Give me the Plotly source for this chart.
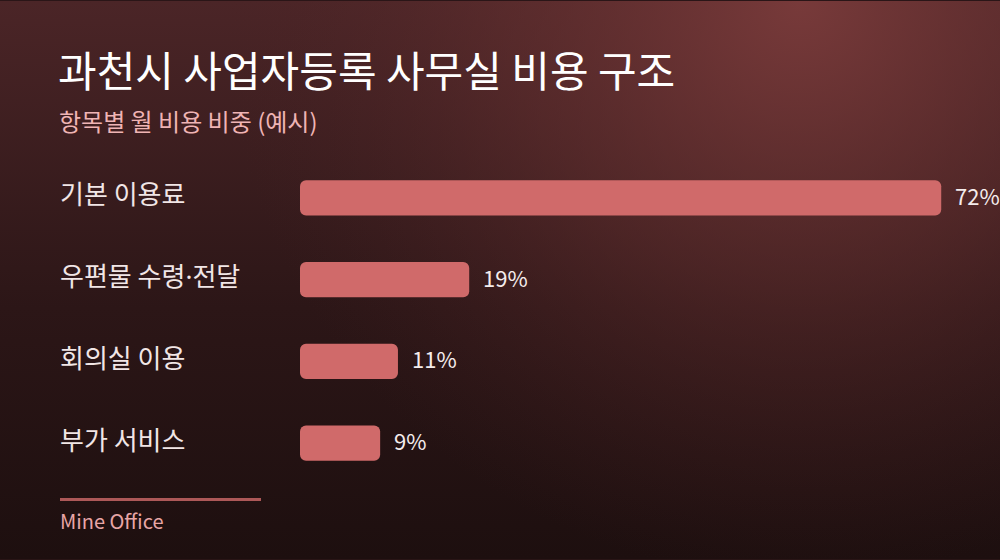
import base64
import plotly.graph_objects as go

categories = ["기본 이용료", "우편물 수령·전달", "회의실 이용", "부가 서비스"]
shares = [72, 19, 11, 9]
value_labels = ["72%", "19%", "11%", "9%"]

title = "과천시 사업자등록 사무실 비용 구조"
subtitle = "항목별 월 비용 비중 (예시)"
source = "Mine Office"

W, H = 1000, 560
ML, MR, MT, MB = 300, 0, 156.5, 75.5
FONT = "Noto Sans CJK KR, Noto Sans, sans-serif"
BAR = "#d06a6a"


def px_x(p):
    return (p - ML) / (W - ML - MR)


def px_y(p):
    return (H - MB - p) / (H - MT - MB)


# background: dark vertical gradient with a warm glow top right
svg = f"""<svg xmlns='http://www.w3.org/2000/svg' width='{W}' height='{H}'>
<defs>
<linearGradient id='g' x1='0' y1='0' x2='0' y2='1'>
<stop offset='0' stop-color='#4b2527'/>
<stop offset='0.55' stop-color='#2c1617'/>
<stop offset='1' stop-color='#1d0f0f'/>
</linearGradient>
<radialGradient id='r' cx='800' cy='0' r='580' gradientUnits='userSpaceOnUse'>
<stop offset='0' stop-color='#7a3b3b' stop-opacity='0.95'/>
<stop offset='0.5' stop-color='#6a3232' stop-opacity='0.45'/>
<stop offset='1' stop-color='#4a2224' stop-opacity='0'/>
</radialGradient>
</defs>
<rect width='{W}' height='{H}' fill='url(#g)'/>
<rect width='{W}' height='{H}' fill='url(#r)'/>
</svg>"""
bg_uri = "data:image/svg+xml;base64," + base64.b64encode(svg.encode()).decode()

# explicit base makes plotly round both ends of the bar
fig = go.Figure(go.Bar(
    x=shares, base=[0] * len(shares), y=categories, orientation="h",
    width=0.43, marker=dict(color=BAR, line=dict(width=0)), hoverinfo="skip",
))

annotations = []
for cat, v, lab in zip(categories, shares, value_labels):
    annotations.append(dict(
        x=v, y=cat, xref="x", yref="y", text=lab, showarrow=False,
        xanchor="left", yanchor="middle", xshift=12, yshift=3,
        font=dict(family=FONT, size=22, color="#f4ecec"),
    ))
    label = cat.replace("·", "<span style='font-family:Noto Sans'>·</span>")
    annotations.append(dict(
        x=px_x(58), y=cat, xref="paper", yref="y", text=label, showarrow=False,
        xanchor="left", yanchor="middle", yshift=5,
        font=dict(family=FONT, size=26, color="#f1e6e6"),
    ))

annotations.append(dict(
    x=px_x(56), y=px_y(68), xref="paper", yref="paper", text=title,
    showarrow=False, xanchor="left", yanchor="middle",
    font=dict(family=FONT, size=42, color="#ffffff"),
))
annotations.append(dict(
    x=px_x(57), y=px_y(120), xref="paper", yref="paper", text=subtitle,
    showarrow=False, xanchor="left", yanchor="middle",
    font=dict(family=FONT, size=24, color="#efb4b4"),
))
annotations.append(dict(
    x=px_x(58), y=px_y(521), xref="paper", yref="paper", text=source,
    showarrow=False, xanchor="left", yanchor="middle",
    font=dict(family=FONT, size=20, color="#e8a6a6"),
))

fig.update_layout(
    width=W, height=H,
    margin=dict(l=ML, r=MR, t=MT, b=MB, pad=0),
    paper_bgcolor="#2a1517",
    plot_bgcolor="rgba(0,0,0,0)",
    barcornerradius=6,
    showlegend=False,
    xaxis=dict(range=[0, 78.6], visible=False, fixedrange=True),
    yaxis=dict(autorange="reversed", visible=False, fixedrange=True),
    annotations=annotations,
    shapes=[dict(
        type="line", xref="paper", yref="paper",
        x0=px_x(60), x1=px_x(261), y0=px_y(500), y1=px_y(500),
        line=dict(color="#ad5858", width=3),
    )],
    images=[dict(
        source=bg_uri, xref="paper", yref="paper",
        x=px_x(0), y=px_y(0), sizex=W / (W - ML - MR), sizey=H / (H - MT - MB),
        xanchor="left", yanchor="top", sizing="stretch", layer="below",
    )],
)

fig.write_html(
    "out.html",
    config={"displayModeBar": False},
    post_script="document.body.style.margin='0';",
)
